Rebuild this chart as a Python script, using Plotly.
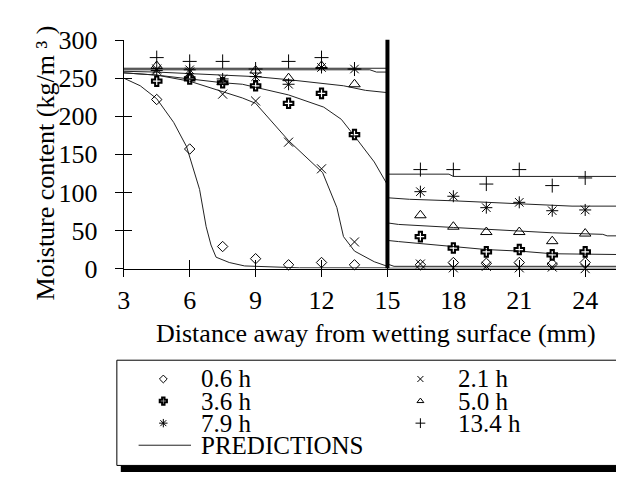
import plotly.graph_objects as go

W, H = 624, 479
FONT = "Liberation Serif"

# ---------------- data ----------------
x_meas = [4.5, 6, 7.5, 9, 10.5, 12, 13.5, 16.5, 18, 19.5, 21, 22.5, 24]
series_names = ["0.6 h", "2.1 h", "3.6 h", "5.0 h", "7.9 h", "13.4 h"]
y_06 = [222, 157, 29, 13, 5, 8, 5, 5, 8, 7, 8, 6, 8]
y_21 = [262, 258, 229, 220, 166, 131, 35, 6, 1, 3, 1, 2, 0]
y_36 = [246, 249, 244, 240, 217, 230, 176, 42, 27, 22, 25, 18, 22]
y_50 = [266, 252, 245, 260, 250, 266, 242, 70, 55, 48, 48, 36, 46]
y_79 = [260, 261, 249, 252, 242, 264, 262, 101, 95, 80, 87, 76, 77]
y_134 = [277, 272, 272, 262, 272, 277, 262, 130, 130, 111, 130, 109, 119]
meas = [y_06, y_21, y_36, y_50, y_79, y_134]

# predictions (left material 3-15 mm, right material 15-25.5 mm)
px_06 = [3, 3.75, 4.5, 5.27, 5.86, 6.45, 6.75, 6.97, 7.2, 7.8, 8.5, 9.9, 11, 15, 15, 25.5]
py_06 = [250, 240, 223, 192, 160, 104, 55, 31, 15, 8, 3.5, 2, 1, 1, 0.5, 0.5]
px_21 = [3, 4.5, 6, 7.5, 8.4, 9, 10.5, 12.05, 12.7, 13.0, 13.5, 14.4, 15, 15, 15.3, 25.5]
py_21 = [257, 254, 246, 232, 224, 217, 168, 126, 80, 42, 23, 9, 3, 6, 3, 3]
px_36 = [3, 4.5, 6, 7.5, 8.4, 9, 10.5, 12.1, 12.9, 13.5, 14.4, 15, 15, 15.5, 18, 19.5, 21, 22.5, 25.5]
py_36 = [257, 254, 249, 244, 242, 238, 228, 212, 196, 174, 140, 110, 37, 35.5, 29.5, 25, 23, 19.5, 18.5]
px_50 = [3, 4.5, 6, 7.5, 9, 10.5, 12, 13, 14, 15, 15, 15.5, 18, 19.5, 21, 22.5, 24.8, 25.0, 25.5]
py_50 = [259, 258, 256, 254, 252, 248, 243, 240, 234, 231, 60, 58, 54, 52, 49, 47, 45, 43, 43]
px_79 = [3, 14.2, 14.5, 15, 15, 16, 18, 20.2, 23.4, 25.5]
py_79 = [261, 261, 258, 258, 93, 91, 89, 86, 82, 82]
px_134 = [3, 15, 15, 17.8, 18, 25.5]
py_134 = [263, 263, 124, 124, 121, 121]
pred_x = [px_06, px_21, px_36, px_50, px_79, px_134]
pred_y = [py_06, py_21, py_36, py_50, py_79, py_134]

INTERFACE_X = 15
x_ticks = [3, 6, 9, 12, 15, 18, 21, 24]
y_ticks = [0, 50, 100, 150, 200, 250, 300]
X_RANGE = [3, 25.5]
Y_RANGE = [0, 300.3]

# ---------------- styles ----------------
symbols = ["diamond-open", "x-thin-open", "cross-open", "triangle-up-open",
           "asterisk-open", "cross-thin-open"]
sizes = [8, 9, 8, 10, 10, 10]
widths = [1, 1, 2, 1, 1, 1]
leg_sizes = [6, 6, 6, 6, 7, 7]

def PX(p):
    return p / W

def PY(p):
    return 1 - p / H

plot_l, plot_r, plot_t, plot_b = 110, 610, 19, 262.5

fig = go.Figure()

for i in range(6):
    fig.add_trace(go.Scatter(x=pred_x[i], y=pred_y[i], mode="lines",
                             line=dict(color="#222222", width=1),
                             showlegend=False, hoverinfo="skip"))
for i in range(6):
    fig.add_trace(go.Scatter(x=x_meas, y=meas[i], mode="markers", name=series_names[i],
                             marker=dict(symbol=symbols[i], size=sizes[i], color="black",
                                         line=dict(color="black", width=widths[i])),
                             showlegend=False, cliponaxis=False))

fig.add_trace(go.Scatter(x=[INTERFACE_X, INTERFACE_X], y=[0, 306],
                         mode="lines", line=dict(color="black", width=4),
                         showlegend=False, hoverinfo="skip", cliponaxis=False))

fig.add_trace(go.Scatter(x=[], y=[], xaxis="x2", yaxis="y2", showlegend=False))

# manual legend (pixel coordinate overlay)
col_x = [150, 410]
row_y = [380, 403.5, 427, 450.5]
for i in range(6):
    r, c = i // 2, i % 2
    fig.add_trace(go.Scatter(x=[col_x[c]], y=[row_y[r]], mode="markers",
                             xaxis="x3", yaxis="y3", showlegend=False, hoverinfo="skip",
                             marker=dict(symbol=symbols[i], size=leg_sizes[i], color="black",
                                         line=dict(color="black", width=widths[i]))))
fig.add_trace(go.Scatter(x=[125, 178], y=[row_y[3], row_y[3]], mode="lines",
                         xaxis="x3", yaxis="y3", showlegend=False, hoverinfo="skip",
                         line=dict(color="#222222", width=1)))

txtfont = dict(family=FONT, size=26, color="black")
legfont = dict(family=FONT, size=25, color="black")
annotations = []
for i in range(6):
    r, c = i // 2, i % 2
    annotations.append(dict(x=PX(col_x[c] + 36), y=PY(row_y[r]), xref="paper", yref="paper",
                            text=series_names[i], showarrow=False, xanchor="left",
                            yanchor="middle", font=legfont))
annotations.append(dict(x=PX(186), y=PY(row_y[3]), xref="paper", yref="paper",
                        text="PREDICTIONS", showarrow=False, xanchor="left", yanchor="middle",
                        font=legfont))
annotations.append(dict(x=PX(365), y=PY(332), xref="paper", yref="paper",
                        text="Distance away from wetting surface (mm)", showarrow=False,
                        xanchor="center", yanchor="middle", font=txtfont))
annotations.append(dict(x=PX(31), y=PY(150), xref="paper", yref="paper",
                        text="Moisture content (kg/m \u00b3 )", showarrow=False,
                        textangle=-90, xanchor="center", yanchor="middle", font=txtfont))

shapes = [
    dict(type="rect", xref="paper", yref="paper", x0=PX(107), x1=PX(624), y0=PY(479), y1=PY(365),
         fillcolor="black", line=dict(width=0), layer="below"),
    dict(type="rect", xref="paper", yref="paper", x0=PX(103), x1=PX(618), y0=PY(472), y1=PY(360),
         fillcolor="white", line=dict(color="black", width=1), layer="below"),
]

xdom = [PX(plot_l), PX(plot_r)]
ydom = [PY(plot_b), PY(plot_t)]

fig.update_layout(
    width=W, height=H,
    margin=dict(l=0, r=0, t=0, b=0),
    paper_bgcolor="white", plot_bgcolor="rgba(0,0,0,0)",
    showlegend=False,
    font=dict(family=FONT, color="black"),
    xaxis=dict(domain=xdom, range=X_RANGE, tickvals=x_ticks, ticks="outside", ticklen=7,
               tickcolor="black", tickwidth=1, showline=True, linecolor="black", linewidth=1,
               showgrid=False, zeroline=False, tickfont=txtfont, anchor="y", ticklabelstandoff=1),
    yaxis=dict(domain=ydom, range=Y_RANGE, tickvals=y_ticks, ticks="outside", ticklen=8,
               tickcolor="black", tickwidth=1, showline=True, linecolor="black", linewidth=1,
               showgrid=False, zeroline=False, tickfont=txtfont, anchor="x", ticklabelstandoff=12),
    xaxis2=dict(overlaying="x", anchor="y", range=X_RANGE, tickvals=x_ticks, ticks="inside",
                ticklen=9, tickcolor="black", showticklabels=False, showline=False,
                showgrid=False, zeroline=False),
    yaxis2=dict(overlaying="y", anchor="x", side="left", range=Y_RANGE, tickvals=y_ticks,
                ticks="inside", ticklen=8, tickcolor="black", showticklabels=False,
                showline=False, showgrid=False, zeroline=False),
    xaxis3=dict(domain=[0, 1], range=[0, W], visible=False, anchor="y3", fixedrange=True),
    yaxis3=dict(domain=[0, 1], range=[H, 0], visible=False, anchor="x3", fixedrange=True),
    annotations=annotations,
    shapes=shapes,
)

fig.write_html("out.html")
